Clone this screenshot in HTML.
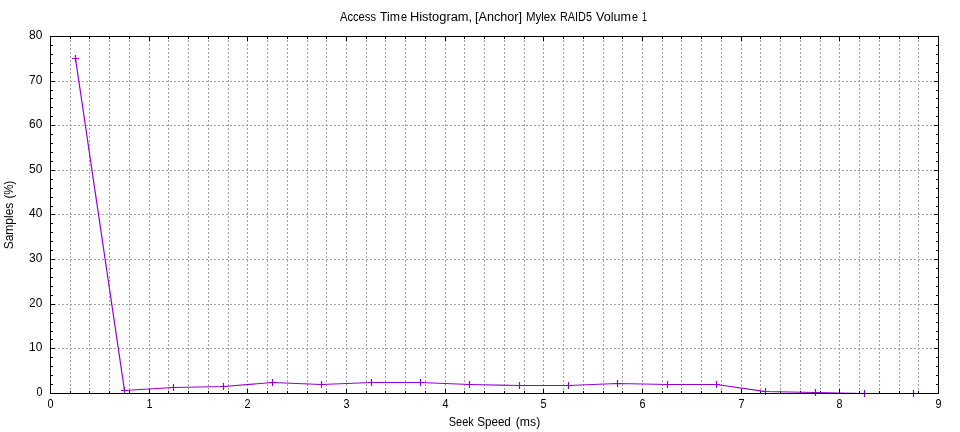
<!DOCTYPE html>
<html><head><meta charset="utf-8"><style>
html,body{margin:0;padding:0;background:#fff;width:960px;height:432px;overflow:hidden}
svg{display:block;will-change:transform}
text{font-family:"Liberation Sans",sans-serif}
</style></head><body>
<svg width="960" height="432" viewBox="0 0 960 432"><path d="M70.5 36V394M89.5 36V394M109.5 36V394M129.5 36V394M149.5 36V394M168.5 36V394M188.5 36V394M208.5 36V394M228.5 36V394M247.5 36V394M267.5 36V394M287.5 36V394M307.5 36V394M326.5 36V394M346.5 36V394M366.5 36V394M385.5 36V394M405.5 36V394M425.5 36V394M445.5 36V394M464.5 36V394M484.5 36V394M504.5 36V394M524.5 36V394M543.5 36V394M563.5 36V394M583.5 36V394M603.5 36V394M622.5 36V394M642.5 36V394M662.5 36V394M681.5 36V394M701.5 36V394M721.5 36V394M741.5 36V394M760.5 36V394M780.5 36V394M800.5 36V394M820.5 36V394M839.5 36V394M859.5 36V394M879.5 36V394M899.5 36V394M918.5 36V394M50 348.5H939M50 304.5H939M50 259.5H939M50 214.5H939M50 170.5H939M50 125.5H939M50 81.5H939" stroke="#a0a0a0" stroke-width="1" stroke-dasharray="2 2" fill="none" shape-rendering="crispEdges"/>
<path d="M50.5 36v5M50.5 394v-5M70.5 36v3M70.5 394v-3M89.5 36v3M89.5 394v-3M109.5 36v3M109.5 394v-3M129.5 36v3M129.5 394v-3M149.5 36v5M149.5 394v-5M168.5 36v3M168.5 394v-3M188.5 36v3M188.5 394v-3M208.5 36v3M208.5 394v-3M228.5 36v3M228.5 394v-3M247.5 36v5M247.5 394v-5M267.5 36v3M267.5 394v-3M287.5 36v3M287.5 394v-3M307.5 36v3M307.5 394v-3M326.5 36v3M326.5 394v-3M346.5 36v5M346.5 394v-5M366.5 36v3M366.5 394v-3M385.5 36v3M385.5 394v-3M405.5 36v3M405.5 394v-3M425.5 36v3M425.5 394v-3M445.5 36v5M445.5 394v-5M464.5 36v3M464.5 394v-3M484.5 36v3M484.5 394v-3M504.5 36v3M504.5 394v-3M524.5 36v3M524.5 394v-3M543.5 36v5M543.5 394v-5M563.5 36v3M563.5 394v-3M583.5 36v3M583.5 394v-3M603.5 36v3M603.5 394v-3M622.5 36v3M622.5 394v-3M642.5 36v5M642.5 394v-5M662.5 36v3M662.5 394v-3M681.5 36v3M681.5 394v-3M701.5 36v3M701.5 394v-3M721.5 36v3M721.5 394v-3M741.5 36v5M741.5 394v-5M760.5 36v3M760.5 394v-3M780.5 36v3M780.5 394v-3M800.5 36v3M800.5 394v-3M820.5 36v3M820.5 394v-3M839.5 36v5M839.5 394v-5M859.5 36v3M859.5 394v-3M879.5 36v3M879.5 394v-3M899.5 36v3M899.5 394v-3M918.5 36v3M918.5 394v-3M938.5 36v5M938.5 394v-5M50 393.5h5M939 393.5h-5M50 384.5h3M939 384.5h-3M50 375.5h3M939 375.5h-3M50 366.5h3M939 366.5h-3M50 357.5h3M939 357.5h-3M50 348.5h5M939 348.5h-5M50 339.5h3M939 339.5h-3M50 331.5h3M939 331.5h-3M50 322.5h3M939 322.5h-3M50 313.5h3M939 313.5h-3M50 304.5h5M939 304.5h-5M50 295.5h3M939 295.5h-3M50 286.5h3M939 286.5h-3M50 277.5h3M939 277.5h-3M50 268.5h3M939 268.5h-3M50 259.5h5M939 259.5h-5M50 250.5h3M939 250.5h-3M50 241.5h3M939 241.5h-3M50 232.5h3M939 232.5h-3M50 223.5h3M939 223.5h-3M50 214.5h5M939 214.5h-5M50 206.5h3M939 206.5h-3M50 197.5h3M939 197.5h-3M50 188.5h3M939 188.5h-3M50 179.5h3M939 179.5h-3M50 170.5h5M939 170.5h-5M50 161.5h3M939 161.5h-3M50 152.5h3M939 152.5h-3M50 143.5h3M939 143.5h-3M50 134.5h3M939 134.5h-3M50 125.5h5M939 125.5h-5M50 116.5h3M939 116.5h-3M50 107.5h3M939 107.5h-3M50 98.5h3M939 98.5h-3M50 90.5h3M939 90.5h-3M50 81.5h5M939 81.5h-5M50 72.5h3M939 72.5h-3M50 63.5h3M939 63.5h-3M50 54.5h3M939 54.5h-3M50 45.5h3M939 45.5h-3M50 36.5h5M939 36.5h-5" stroke="#000" stroke-width="1" fill="none" shape-rendering="crispEdges"/>
<polyline points="75.5,58.5 124.5,390.5 173.5,387.5 223.5,386.5 272.5,382.5 321.5,384.5 371.5,382.5 420.5,382.5 469.5,384.5 519.5,385.5 568.5,385.5 617.5,383.5 667.5,384.5 716.5,384.5 765.5,391.5 815.5,392.5 864.5,393.5 913.5,393.5" stroke="#9400d3" stroke-width="1.2" fill="none" stroke-linejoin="round"/>
<path d="M72.0 58.5h7M75.5 55.0v7M121.0 390.5h7M124.5 387.0v7M170.0 387.5h7M173.5 384.0v7M220.0 386.5h7M223.5 383.0v7M269.0 382.5h7M272.5 379.0v7M318.0 384.5h7M321.5 381.0v7M368.0 382.5h7M371.5 379.0v7M417.0 382.5h7M420.5 379.0v7M466.0 384.5h7M469.5 381.0v7M516.0 385.5h7M519.5 382.0v7M565.0 385.5h7M568.5 382.0v7M614.0 383.5h7M617.5 380.0v7M664.0 384.5h7M667.5 381.0v7M713.0 384.5h7M716.5 381.0v7M762.0 391.5h7M765.5 388.0v7M812.0 392.5h7M815.5 389.0v7M861.0 393.5h7M864.5 390.0v7M910.0 393.5h7M913.5 390.0v7" stroke="#9400d3" stroke-width="1.2" fill="none"/>
<path d="M50.5 36.5H938.5V393.5H50.5Z" stroke="#000" stroke-width="1" fill="none" shape-rendering="crispEdges"/>
<g font-family="Liberation Sans, sans-serif" font-size="12.5" fill="#000"><text x="42.4" y="396.0" text-anchor="end" textLength="6.0" lengthAdjust="spacingAndGlyphs">0</text><text x="42.4" y="351.0" text-anchor="end" textLength="13.3" lengthAdjust="spacingAndGlyphs">10</text><text x="42.4" y="307.0" text-anchor="end" textLength="13.3" lengthAdjust="spacingAndGlyphs">20</text><text x="42.4" y="262.0" text-anchor="end" textLength="13.3" lengthAdjust="spacingAndGlyphs">30</text><text x="42.4" y="217.0" text-anchor="end" textLength="13.3" lengthAdjust="spacingAndGlyphs">40</text><text x="42.4" y="173.0" text-anchor="end" textLength="13.3" lengthAdjust="spacingAndGlyphs">50</text><text x="42.4" y="128.0" text-anchor="end" textLength="13.3" lengthAdjust="spacingAndGlyphs">60</text><text x="42.4" y="84.0" text-anchor="end" textLength="13.3" lengthAdjust="spacingAndGlyphs">70</text><text x="42.4" y="39.0" text-anchor="end" textLength="13.3" lengthAdjust="spacingAndGlyphs">80</text><text x="50.5" y="408" text-anchor="middle" textLength="6.0" lengthAdjust="spacingAndGlyphs">0</text><text x="149.5" y="408" text-anchor="middle" textLength="6.0" lengthAdjust="spacingAndGlyphs">1</text><text x="247.5" y="408" text-anchor="middle" textLength="6.0" lengthAdjust="spacingAndGlyphs">2</text><text x="346.5" y="408" text-anchor="middle" textLength="6.0" lengthAdjust="spacingAndGlyphs">3</text><text x="445.5" y="408" text-anchor="middle" textLength="6.0" lengthAdjust="spacingAndGlyphs">4</text><text x="543.5" y="408" text-anchor="middle" textLength="6.0" lengthAdjust="spacingAndGlyphs">5</text><text x="642.5" y="408" text-anchor="middle" textLength="6.0" lengthAdjust="spacingAndGlyphs">6</text><text x="741.5" y="408" text-anchor="middle" textLength="6.0" lengthAdjust="spacingAndGlyphs">7</text><text x="839.5" y="408" text-anchor="middle" textLength="6.0" lengthAdjust="spacingAndGlyphs">8</text><text x="938.5" y="408" text-anchor="middle" textLength="6.0" lengthAdjust="spacingAndGlyphs">9</text><text x="340.0" y="21" textLength="36.0" lengthAdjust="spacingAndGlyphs">Access</text><text x="380.0" y="21" textLength="20.02" lengthAdjust="spacingAndGlyphs">Tim</text><text x="401.0" y="21" textLength="6.1" lengthAdjust="spacingAndGlyphs">e</text><text x="410.0" y="21" textLength="62.07" lengthAdjust="spacingAndGlyphs">Histogram,</text><text x="475.0" y="21" textLength="47.01" lengthAdjust="spacingAndGlyphs">[Anchor]</text><text x="526.0" y="21" textLength="30.02" lengthAdjust="spacingAndGlyphs">Mylex</text><text x="560.0" y="21" textLength="32.0" lengthAdjust="spacingAndGlyphs">RAID5</text><text x="596.0" y="21" textLength="35.01" lengthAdjust="spacingAndGlyphs">Volum</text><text x="632.0" y="21" textLength="6.1" lengthAdjust="spacingAndGlyphs">e</text><text x="642.0" y="21" textLength="5.0" lengthAdjust="spacingAndGlyphs">1</text><text x="448.8" y="426" textLength="25.02" lengthAdjust="spacingAndGlyphs">Seek</text><text x="477.2" y="426" textLength="33.64" lengthAdjust="spacingAndGlyphs">Speed</text><text x="515.8" y="426" textLength="24.43" lengthAdjust="spacingAndGlyphs">(ms)</text><text transform="translate(13,249.3) rotate(-90)" textLength="46.62" lengthAdjust="spacingAndGlyphs">Samples</text><text transform="translate(13,198.5) rotate(-90)" textLength="17.87" lengthAdjust="spacingAndGlyphs">(%)</text></g></svg>
</body></html>
